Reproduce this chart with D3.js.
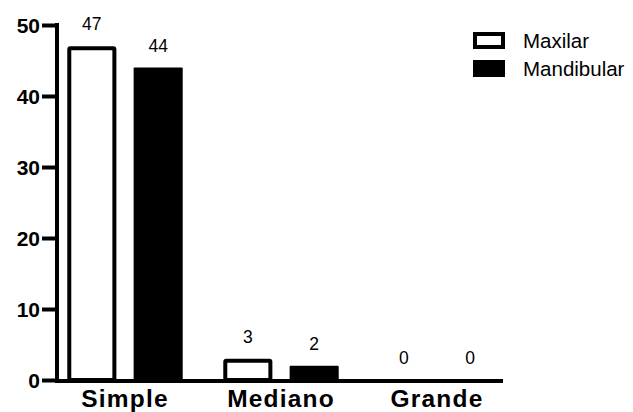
<!DOCTYPE html>
<html><head><meta charset="utf-8">
<script src="https://cdn.jsdelivr.net/npm/d3@7"></script>
<style>body{margin:0;background:#fff}svg{display:block}</style>
</head><body>
<svg id="c" width="633" height="412"></svg>
<script>
const categories = ["Simple", "Mediano", "Grande"];
const series = ["Maxilar", "Mandibular"];
const maxilar = [47, 3, 0];
const mandibular = [44, 2, 0];
const yTicks = [0, 10, 20, 30, 40, 50];

const svg = d3.select("#c");
const font = "Liberation Sans, Arial, Helvetica, sans-serif";
const y = d3.scaleLinear().domain([0, 50]).range([380, 25]);
const x0 = d3.scaleBand().domain(categories).range([47, 515]).paddingInner(0.26).paddingOuter(0.13);
const x1 = d3.scaleBand().domain(series).range([0, x0.bandwidth()]).paddingInner(0.26);
const vals = {Maxilar: maxilar, Mandibular: mandibular};

const data = [];
categories.forEach((c, i) => series.forEach(s => data.push({c, s, v: vals[s][i]})));

// bars
const sw = 4;
svg.append("g").selectAll("rect").data(data.filter(d => d.v > 0)).join("rect")
  .attr("x", d => x0(d.c) + x1(d.s) + (d.s === "Maxilar" ? sw/2 : 0))
  .attr("width", d => x1.bandwidth() - (d.s === "Maxilar" ? sw : 0))
  .attr("y", d => y(d.v) + (d.s === "Maxilar" ? sw/2 : 0))
  .attr("height", d => y(0) - y(d.v) - (d.s === "Maxilar" ? sw/2 : 0))
  .attr("fill", d => d.s === "Maxilar" ? "#fff" : "#000")
  .attr("stroke", d => d.s === "Maxilar" ? "#000" : "none")
  .attr("stroke-width", sw)
  .attr("rx", 1);

// value labels
svg.append("g").selectAll("text").data(data).join("text")
  .attr("x", d => x0(d.c) + x1(d.s) + x1.bandwidth()/2)
  .attr("y", d => y(d.v) - 16)
  .attr("text-anchor", "middle")
  .attr("font-family", font).attr("font-size", 17.5)
  .text(d => d.v);

// y axis
const yAxis = d3.axisLeft(y).tickValues(yTicks).tickSize(15).tickPadding(2).tickFormat(d3.format("d"));
const ga = svg.append("g").attr("transform", "translate(57,0)").call(yAxis);
ga.select(".domain").attr("stroke-width", 4).attr("d", "M0,23V382");
ga.selectAll(".tick line").attr("stroke-width", 4);
ga.selectAll(".tick text").attr("font-family", font).attr("font-size", 21).attr("font-weight", "bold").attr("fill", "#000").attr("dy", "0.36em");

// x axis
const xAxis = d3.axisBottom(x0).tickSize(0).tickPadding(8);
const gx = svg.append("g").attr("transform", "translate(0,381)").call(xAxis);
gx.select(".domain").attr("stroke-width", 4).attr("d", "M55,0H503");
gx.selectAll(".tick text").attr("font-family", font).attr("font-size", 24.5).attr("font-weight", "bold")
  .attr("letter-spacing", "1.2px").attr("fill", "#000").attr("dy", "0.72em");

// legend
const lg = svg.append("g");
series.forEach((s, i) => {
  const yy = 32 + i * 28;
  lg.append("rect").attr("x", s === "Maxilar" ? 475 : 473).attr("y", yy + (s === "Maxilar" ? 2 : 0))
    .attr("width", s === "Maxilar" ? 28 : 32).attr("height", s === "Maxilar" ? 13 : 17)
    .attr("fill", s === "Maxilar" ? "#fff" : "#000")
    .attr("stroke", s === "Maxilar" ? "#000" : "none").attr("stroke-width", 4);
  lg.append("text").attr("x", 523).attr("y", yy + 16)
    .attr("font-family", font).attr("font-size", 20.5).attr("fill", "#000").text(s);
});
</script>
</body></html>
